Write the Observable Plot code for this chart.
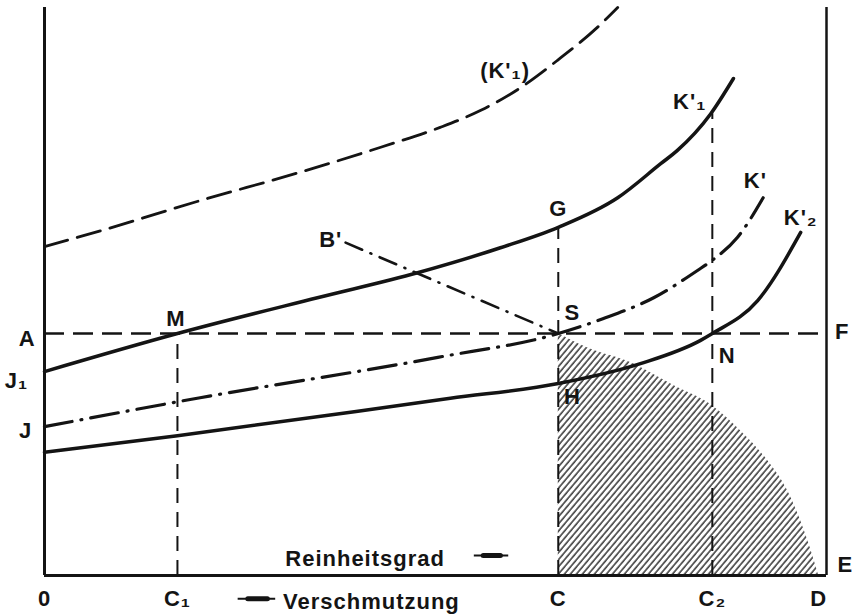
<!DOCTYPE html>
<html><head><meta charset="utf-8">
<script src="https://cdn.jsdelivr.net/npm/d3@7"></script>
<script src="https://cdn.jsdelivr.net/npm/@observablehq/plot@0.6"></script>
<style>body{margin:0;background:#fff}</style>
</head><body><div id="chart"></div>
<script>
// Units: x 0 = O (origin), 100 = right frame; y 0 = base line, 100 = top of frame
const xNames  = ["0", "C\u2081", "C", "C\u2082", "D"];
const xValues = [0, 17.0, 65.7, 85.4, 99.0];
const levelA  = 42.6;   // A ... F
const levelG  = 61.3;   // G on K'1 at C
const levelK1C2 = 81.3; // K'1 at C2

// (K'1) dashed upper curve
const kUpX = [0, 7.2, 19.9, 32.7, 43.0, 50.6, 55.8, 60.9, 65.6, 70.7, 73.3];
const kUpY = [57.9, 60.7, 66.0, 71.0, 75.4, 78.9, 81.9, 85.9, 90.7, 96.5, 100];
// K'1 solid curve (J1 - M - G - K'1)
const k1X = [0, 17.0, 34.9, 47.7, 58.3, 65.7, 73.3, 78.8, 80.9, 85.2, 88.1];
const k1Y = [35.9, 42.6, 48.9, 53.3, 57.7, 61.3, 66.5, 72.5, 74.8, 81.3, 87.5];
// K' dash-dot curve (J - S - K')
const kX = [0, 19.9, 50.3, 65.7, 71.4, 77.9, 83.5, 85.4, 88.6, 91.9];
const kY = [26.2, 31.3, 38.4, 42.6, 45.2, 48.9, 53.7, 55.5, 59.5, 66.5];
// K'2 solid lower curve (H - N - K'2)
const k2X = [0, 17.0, 51.9, 65.7, 76.2, 83.9, 85.4, 91.2, 96.7];
const k2Y = [21.7, 24.6, 31.2, 33.8, 37.3, 41.4, 42.6, 48.4, 60.4];
// B' dash-dot line
const bX = [38.5, 65.7];
const bY = [58.6, 42.6];
// hatched area boundary (S ... D)
const hX = [65.7, 69.4, 75.3, 80.4, 85.4, 89.0, 92.5, 95.0, 97.6, 99.0];
const hY = [42.6, 40.1, 37.3, 33.5, 29.9, 25.5, 20.2, 15.0, 6.2, 0];

// point labels
const labText = ["A", "J\u2081", "J", "E", "F", "M", "G", "S", "H", "N", "B'", "K'\u2081", "K'", "K'\u2082", "(K'\u2081)"];
const labX    = [-2.2, -3.6, -2.4, 102.4, 102.0, 16.8, 65.7, 67.5, 67.5, 87.3, 36.6, 82.5, 90.9, 96.7, 58.9];
const labY    = [41.7, 34.2, 25.5, 1.8, 42.8, 45.2, 64.6, 46.3, 31.5, 38.7, 59.0, 83.3, 69.5, 62.9, 88.9];
// axis captions
const capText = ["Reinheitsgrad", "Verschmutzung"];
const capX    = [41.0, 41.8];
const capY    = [3.0, -4.6];
// caption arrows: [x-start, x-end, thick-start, thick-end, y]
const arrowX1 = [54.9, 24.7];
const arrowX2 = [59.3, 29.5];
const arrowT1 = [56.1, 26.0];
const arrowT2 = [58.3, 28.5];
const arrowY  = [3.5, -4.1];

const zip = (xs, ys) => xs.map((x, i) => ({x, y: ys[i]}));
const labels = labText.map((t, i) => ({t, x: labX[i], y: labY[i]}));
const ticks = xNames.map((t, i) => ({t, x: xValues[i], y: -4.2}));
const caps = capText.map((t, i) => ({t, x: capX[i], y: capY[i]}));
const arrows = arrowX1.map((x1, i) => ({x1, x2: arrowX2[i], t1: arrowT1[i], t2: arrowT2[i], y: arrowY[i]}));

const ink = "#141414";
const font = "Liberation Sans, Arial, sans-serif";
const curve = "monotone-x";

const chart = Plot.plot({
  width: 854, height: 614,
  marginLeft: 44, marginRight: 28, marginTop: 7, marginBottom: 39,
  x: {domain: [0, 100], axis: null},
  y: {domain: [0, 100], axis: null},
  style: {background: "#fff", overflow: "visible"},
  marks: [
    Plot.areaY(zip(hX, hY), {x: "x", y: "y", fill: "url(#hatch)", curve}),
    // frame
    Plot.ruleX([0], {y1: 0, y2: 100, stroke: ink, strokeWidth: 3}),
    Plot.ruleX([100], {y1: 0, y2: 100, stroke: ink, strokeWidth: 2.5}),
    Plot.ruleY([0], {x1: 0, x2: 100, stroke: ink, strokeWidth: 3}),
    // guides
    Plot.ruleY([levelA], {x1: 0, x2: 100, stroke: ink, strokeWidth: 2.5, strokeDasharray: "20,9"}),
    Plot.ruleX([xValues[1]], {y1: 0, y2: levelA, stroke: ink, strokeWidth: 2, strokeDasharray: "15,9"}),
    Plot.ruleX([xValues[2]], {y1: 0, y2: levelG, stroke: ink, strokeWidth: 2, strokeDasharray: "15,9"}),
    Plot.ruleX([xValues[3]], {y1: 0, y2: levelK1C2, stroke: ink, strokeWidth: 2, strokeDasharray: "15,9"}),
    // curves
    Plot.line(zip(kUpX, kUpY), {x: "x", y: "y", curve, stroke: ink, strokeWidth: 2.8, strokeDasharray: "24,10"}),
    Plot.line(zip(k1X, k1Y), {x: "x", y: "y", curve, stroke: ink, strokeWidth: 3.5}),
    Plot.line(zip(kX, kY), {x: "x", y: "y", curve, stroke: ink, strokeWidth: 3.2, strokeDasharray: "28,9,1,9", strokeLinecap: "round"}),
    Plot.line(zip(k2X, k2Y), {x: "x", y: "y", curve, stroke: ink, strokeWidth: 3.5}),
    Plot.line(zip(bX, bY), {x: "x", y: "y", stroke: ink, strokeWidth: 2.6, strokeDasharray: "18,9,1,9", strokeLinecap: "round"}),
    // caption arrows
    Plot.link(arrows, {x1: "x1", x2: "x2", y1: "y", y2: "y", stroke: ink, strokeWidth: 2}),
    Plot.link(arrows, {x1: "t1", x2: "t2", y1: "y", y2: "y", stroke: ink, strokeWidth: 5, strokeLinecap: "round"}),
    // labels
    Plot.text(labels, {x: "x", y: "y", text: "t", fontSize: 22, fontWeight: "bold", fontFamily: font, fill: ink}),
    Plot.text(ticks, {x: "x", y: "y", text: "t", fontSize: 22, fontWeight: "bold", fontFamily: font, fill: ink}),
    Plot.text(caps, {x: "x", y: "y", text: "t", fontSize: 22, fontWeight: "bold", fontFamily: font, fill: ink})
  ]
});

// hatch pattern definition
const defs = d3.select(chart).insert("defs", ":first-child");
const pat = defs.append("pattern").attr("id", "hatch")
  .attr("patternUnits", "userSpaceOnUse").attr("width", 4.6).attr("height", 4.6)
  .attr("patternTransform", "rotate(40)");
pat.append("line").attr("x1", 1).attr("y1", 0).attr("x2", 1).attr("y2", 4.6)
  .attr("stroke", ink).attr("stroke-width", 1.3);
d3.select(chart).selectAll("text").style("letter-spacing", "1px");

document.getElementById("chart").appendChild(chart);
</script>
</body></html>
